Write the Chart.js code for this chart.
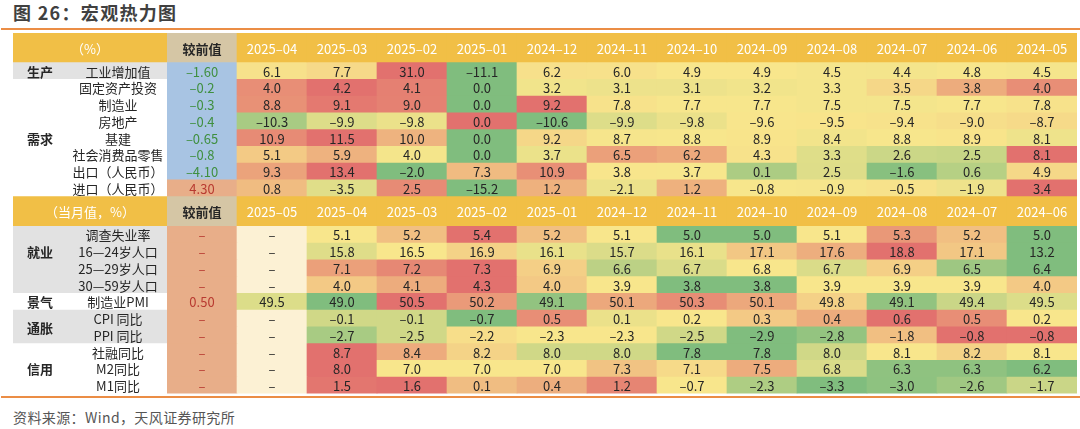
<!DOCTYPE html>
<html><head><meta charset="utf-8">
<script src="https://cdn.jsdelivr.net/npm/chart.js@4.4.1/dist/chart.umd.min.js"></script>
<style>
html,body{margin:0;padding:0;background:#fff;width:1080px;height:429px;overflow:hidden;font-family:"Noto Sans CJK SC",sans-serif;}
#title{position:absolute;left:13px;top:0px;font-size:18px;font-weight:bold;color:#404040;line-height:24px;letter-spacing:1.3px;}
.rule{position:absolute;left:1px;width:1079px;height:2px;background:#EB8D45;}
#src{position:absolute;left:13px;top:407px;font-size:14px;color:#555;line-height:20px;letter-spacing:0.4px;}
#left{position:absolute;left:13px;top:33px;}
#right{position:absolute;left:167px;top:33px;}
</style></head><body>
<div id="title">图 26：宏观热力图</div>
<div class="rule" style="top:28px"></div>
<div class="rule" style="top:396px"></div>
<div id="src">资料来源：Wind，天风证券研究所</div>
<canvas id="left" width="154" height="361"></canvas>
<canvas id="right" width="910" height="361"></canvas>
<script>
// ---------------- DATA ----------------
const HEAD_A = '（%）';
const HEAD_B = '（当月值，%）';
const CHANGE_HEAD = '较前值';
const DATES_A = ['2025-04','2025-03','2025-02','2025-01','2024-12','2024-11','2024-10','2024-09','2024-08','2024-07','2024-06','2024-05'];
const DATES_B = ['2025-05','2025-04','2025-03','2025-02','2025-01','2024-12','2024-11','2024-10','2024-09','2024-08','2024-07','2024-06'];

const LABELS_A = ['工业增加值','固定资产投资','制造业','房地产','基建','社会消费品零售','出口（人民币）','进口（人民币）'];
const GROUPS_A = [['生产',0,0],['需求',1,7]];
const CHANGE_A = ['-1.60','-0.2','-0.3','-0.4','-0.65','-0.8','-4.10','4.30'];
const INDUSTRY   = [6.1, 7.7, 31.0, -11.1, 6.2, 6.0, 4.9, 4.9, 4.5, 4.4, 4.8, 4.5];
const FAI        = [4.0, 4.2, 4.1, 0.0, 3.2, 3.1, 3.1, 3.2, 3.3, 3.5, 3.8, 4.0];
const MANUF      = [8.8, 9.1, 9.0, 0.0, 9.2, 7.8, 7.7, 7.7, 7.5, 7.5, 7.7, 7.8];
const REALESTATE = [-10.3, -9.9, -9.8, 0.0, -10.6, -9.9, -9.8, -9.6, -9.5, -9.4, -9.0, -8.7];
const INFRA      = [10.9, 11.5, 10.0, 0.0, 9.2, 8.7, 8.8, 8.9, 8.4, 8.8, 8.9, 8.1];
const RETAIL     = [5.1, 5.9, 4.0, 0.0, 3.7, 6.5, 6.2, 4.3, 3.3, 2.6, 2.5, 8.1];
const EXPORTS    = [9.3, 13.4, -2.0, 7.3, 10.9, 3.8, 3.7, 0.1, 2.5, -1.6, 0.6, 4.9];
const IMPORTS    = [0.8, -3.5, 2.5, -15.2, 1.2, -2.1, 1.2, -0.8, -0.9, -0.5, -1.9, 3.4];
const VALUES_A = [INDUSTRY, FAI, MANUF, REALESTATE, INFRA, RETAIL, EXPORTS, IMPORTS];

const LABELS_B = ['调查失业率','16—24岁人口','25—29岁人口','30—59岁人口','制造业PMI','CPI 同比','PPI 同比','社融同比','M2同比','M1同比'];
const GROUPS_B = [['就业',0,2],['景气',4,4],['通胀',5,6],['信用',7,9]];
const CHANGE_B = ['-','-','-','-','0.50','-','-','-','-','-'];
const UNEMP      = [null, 5.1, 5.2, 5.4, 5.2, 5.1, 5.0, 5.0, 5.1, 5.3, 5.2, 5.0];
const UNEMP_1624 = [null, 15.8, 16.5, 16.9, 16.1, 15.7, 16.1, 17.1, 17.6, 18.8, 17.1, 13.2];
const UNEMP_2529 = [null, 7.1, 7.2, 7.3, 6.9, 6.6, 6.7, 6.8, 6.7, 6.9, 6.5, 6.4];
const UNEMP_3059 = [null, 4.0, 4.1, 4.3, 4.0, 3.9, 3.8, 3.8, 3.9, 3.9, 3.9, 4.0];
const PMI        = [49.5, 49.0, 50.5, 50.2, 49.1, 50.1, 50.3, 50.1, 49.8, 49.1, 49.4, 49.5];
const CPI        = [null, -0.1, -0.1, -0.7, 0.5, 0.1, 0.2, 0.3, 0.4, 0.6, 0.5, 0.2];
const PPI        = [null, -2.7, -2.5, -2.2, -2.3, -2.3, -2.5, -2.9, -2.8, -1.8, -0.8, -0.8];
const TSF        = [null, 8.7, 8.4, 8.2, 8.0, 8.0, 7.8, 7.8, 8.0, 8.1, 8.2, 8.1];
const M2         = [null, 8.0, 7.0, 7.0, 7.0, 7.3, 7.1, 7.5, 6.8, 6.3, 6.3, 6.2];
const M1         = [null, 1.5, 1.6, 0.1, 0.4, 1.2, -0.7, -2.3, -3.3, -3.0, -2.6, -1.7];
const VALUES_B = [UNEMP, UNEMP_1624, UNEMP_2529, UNEMP_3059, PMI, CPI, PPI, TSF, M2, M1];

// ---------------- STYLE / LAYOUT ----------------
const FONT = '"Noto Sans CJK SC","Noto Sans",sans-serif';
const C_YELLOW_HEAD = '#F1BF46', C_TAN = '#D5C6A5', C_GRAY = '#E2E2E2', C_WHITE = '#FFFFFF';
const C_BLUE = '#A8C4E3', C_SALMON = '#E8AE89', C_CREAM = '#FCF1D4';
const T_GREEN = '#3F8F3F', T_RED = '#B83A30', T_DARK = '#262626';
const HEAT_LOW = [128,189,126], HEAT_MID = [248,230,140], HEAT_HIGH = [226,113,110];
const SHADE_A = [C_GRAY, C_WHITE];             // per group
const SHADE_B = [C_GRAY, C_WHITE, C_GRAY, C_WHITE];
const H_HEAD_A = 28.8, H_HEAD_B = 29.8, H_ROW = 16.75, TOTAL_H = 361;

const fmtDash = s => s.replace(/-/g, '–');
const fmtVal = v => v == null ? '–' : fmtDash(v.toFixed(1));

function median(arr){
  const s = arr.slice().sort((a,b)=>a-b); const n = s.length;
  return n % 2 ? s[(n-1)/2] : (s[n/2-1] + s[n/2]) / 2;
}
function mix(a,b,t){ return 'rgb(' + a.map((x,i)=>Math.round(x + (b[i]-x)*t)).join(',') + ')'; }
function heatColors(row){
  const vals = row.filter(v => v != null);
  const mn = Math.min(...vals), mx = Math.max(...vals), md = median(vals);
  return row.map(v => {
    if (v == null) return C_CREAM;
    if (v <= md) return mix(HEAT_LOW, HEAT_MID, md === mn ? 1 : (v - mn) / (md - mn));
    return mix(HEAT_MID, HEAT_HIGH, mx === md ? 0 : (v - md) / (mx - md));
  });
}
function shadeFor(groups, shades, i){
  for (let g = 0; g < groups.length; g++){
    const end = g + 1 < groups.length ? groups[g+1][1] - 1 : Infinity;
    if (i >= groups[g][1] && i <= end) return shades[g];
  }
  return C_WHITE;
}

// build row specs
const spec = [];
spec.push({type:'head', h:H_HEAD_A, head:HEAD_A, dates:DATES_A});
LABELS_A.forEach((l,i)=>spec.push({type:'row', h:H_ROW, label:l, change:CHANGE_A[i], values:VALUES_A[i],
  changeBg: CHANGE_A[i].startsWith('-') ? C_BLUE : C_SALMON, changeColor: CHANGE_A[i].startsWith('-') ? T_GREEN : T_RED,
  shade: shadeFor(GROUPS_A, SHADE_A, i), sec:'A', idx:i}));
spec.push({type:'head', h:H_HEAD_B, head:HEAD_B, dates:DATES_B});
LABELS_B.forEach((l,i)=>spec.push({type:'row', h:H_ROW, label:l, change:CHANGE_B[i], values:VALUES_B[i],
  changeBg: C_SALMON, changeColor: T_RED, shade: shadeFor(GROUPS_B, SHADE_B, i), sec:'B', idx:i}));

const NCOL = 13;
const rightDatasets = spec.map(r => {
  if (r.type === 'head'){
    return { data: Array(NCOL).fill(r.h), backgroundColor: [C_TAN].concat(Array(12).fill(C_YELLOW_HEAD)),
      texts: [CHANGE_HEAD].concat(r.dates.map(fmtDash)),
      textColors: [T_DARK].concat(Array(12).fill('#FFFFFF')),
      fonts: ['bold 13px ' + FONT].concat(Array(12).fill('13px ' + FONT)), dy: 1.5 };
  }
  return { data: Array(NCOL).fill(r.h), backgroundColor: [r.changeBg].concat(heatColors(r.values)),
    texts: [fmtDash(r.change)].concat(r.values.map(fmtVal)),
    textColors: [r.changeColor].concat(Array(12).fill(T_DARK)),
    fonts: Array(NCOL).fill('13px ' + FONT), dy: 1.5 };
});
const leftDatasets = spec.map(r => ({ data:[r.h], backgroundColor: r.type === 'head' ? C_YELLOW_HEAD : r.shade, spec:r }));

const common = {
  responsive:false, animation:false, events:[],
  layout:{padding:0},
  plugins:{legend:{display:false}, tooltip:{enabled:false}},
  datasets:{bar:{barPercentage:1, categoryPercentage:1, borderWidth:0}},
  scales:{ x:{stacked:true, display:false}, y:{stacked:true, display:false, min:0, max:TOTAL_H, reverse:true} }
};

const cellText = {
  id:'cellText',
  afterDatasetsDraw(chart){
    const ctx = chart.ctx; ctx.save(); ctx.textAlign='center'; ctx.textBaseline='middle';
    chart.data.datasets.forEach((ds,i)=>{
      chart.getDatasetMeta(i).data.forEach((el,j)=>{
        const t = ds.texts[j]; if (t == null) return;
        ctx.fillStyle = ds.textColors[j]; ctx.font = ds.fonts[j];
        ctx.fillText(t, el.x, (el.y + el.base)/2 + ds.dy);
      });
    });
    ctx.restore();
  }
};

const labelText = {
  id:'labelText',
  afterDatasetsDraw(chart){
    const ctx = chart.ctx, a = chart.chartArea; ctx.save(); ctx.textBaseline='middle';
    const centers = chart.data.datasets.map((ds,i)=>{ const el = chart.getDatasetMeta(i).data[0]; return (el.y + el.base)/2; });
    const groupRows = {A:{}, B:{}};
    chart.data.datasets.forEach((ds,i)=>{
      const r = ds.spec;
      if (r.type === 'head'){
        ctx.textAlign='center'; ctx.fillStyle='#FFFFFF'; ctx.font='13px ' + FONT;
        ctx.fillText(r.head, (a.left + a.right)/2, centers[i] + 1.5);
      } else {
        ctx.textAlign='center'; ctx.fillStyle=T_DARK; ctx.font='13px ' + FONT;
        ctx.fillText(r.label, a.left + 105, centers[i] + 1.5);
        groupRows[r.sec][r.idx] = centers[i];
      }
    });
    ctx.font = 'bold 13px ' + FONT; ctx.fillStyle = T_DARK; ctx.textAlign='center';
    [[GROUPS_A,'A'],[GROUPS_B,'B']].forEach(([groups,sec])=>{
      groups.forEach(([name,s,e])=>{
        const y = (groupRows[sec][s] + groupRows[sec][e]) / 2;
        ctx.fillText(name, a.left + 27, y + 1.5);
      });
    });
    ctx.restore();
  }
};

function draw(){
  new Chart(document.getElementById('right'), { type:'bar',
    data:{ labels: Array.from({length:NCOL}, (_,i)=>String(i)), datasets: rightDatasets },
    options: common, plugins:[cellText] });
  new Chart(document.getElementById('left'), { type:'bar',
    data:{ labels:['label'], datasets: leftDatasets },
    options: common, plugins:[labelText] });
}
Promise.all([document.fonts.load('13px "Noto Sans CJK SC"'), document.fonts.load('bold 13px "Noto Sans CJK SC"')])
  .then(draw, draw);
</script>
</body></html>
